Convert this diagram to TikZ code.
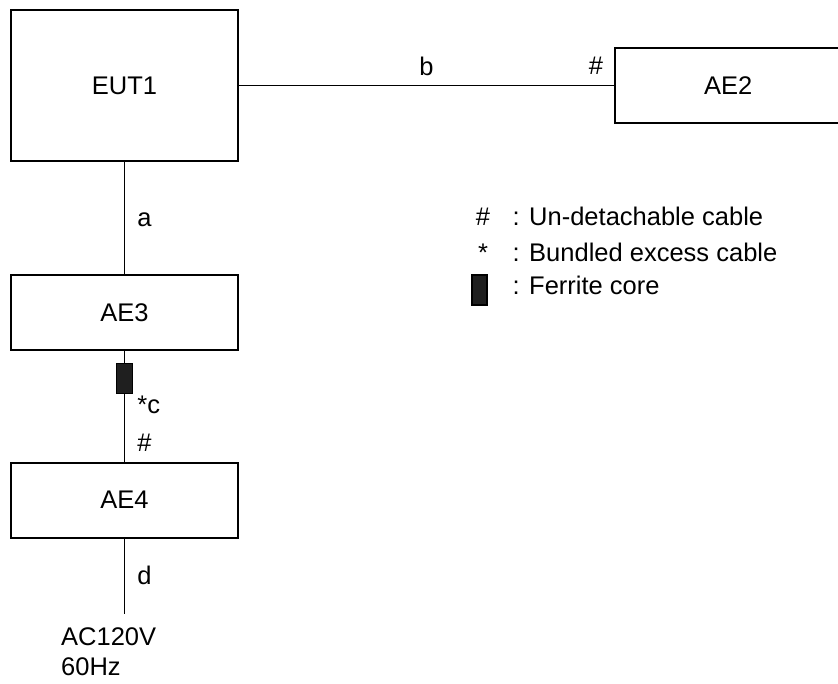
\documentclass[tikz,border=0pt]{standalone}
\usepackage{fontspec}
\setmainfont{Liberation Sans}
\usetikzlibrary{positioning}
\tikzstyle{unit}=[rectangle,draw=black,line width=1.8pt,fill=white,minimum width=227pt]
\tikzstyle{bigunit}=[unit,minimum height=151pt]
\tikzstyle{smallunit}=[unit,minimum height=75pt]
\tikzstyle{ferrite}=[rectangle,draw=black,line width=1.2pt,fill=black!88,minimum width=16pt,minimum height=30pt,inner sep=0pt]
\tikzstyle{cable}=[line width=1.8pt]
\tikzstyle{tag}=[inner sep=0pt,anchor=base west,xshift=12pt]

\begin{document}
\begin{tikzpicture}[x=1pt,y=-1pt,font=\fontsize{25.5}{30.3}\selectfont]
            \clip (0,0) rectangle (838,684);

            % UNITS

            \node[bigunit] (eut) at (124.5,85.5) {EUT1};
            \node[smallunit,right=375pt of eut] (ae2) {AE2};
            \node[smallunit,below=112pt of eut] (ae3) {AE3};
            \node[smallunit,below=111pt of ae3] (ae4) {AE4};
            \node[ferrite,below=12pt of ae3] (fer) {};
            \coordinate[below=75pt of ae4] (mains);
            \node[anchor=north west,align=left,inner sep=0pt,xshift=-63.5pt,yshift=-14pt] (supply) at (mains) {AC120V\\60Hz};

            % CABLES

            \path[cable] (eut) edge node[inner sep=0pt,anchor=base,midway,yshift=9.5pt] (lb) {b}
                                   node[inner sep=0pt,anchor=base east,pos=1,xshift=-10pt,yshift=11pt] (hb) {\#} (ae2);
            \path[cable] (eut) edge node[tag,pos=0.58] (la) {a} (ae3);
            \path[cable] (ae3) edge (fer);
            \path[cable] (fer) edge node[tag,pos=0.29] (lc) {*c}
                                   node[tag,pos=0.845] (hc) {\#} (ae4);
            \path[cable] (ae4) edge node[tag,pos=0.614] (ld) {d} (mains);

            % LEGEND

            \node[inner sep=0pt,anchor=base] (khash) at (483,226) {\#};
            \node[inner sep=0pt,anchor=base west] (thash) at (512.5,226) {: Un-detachable cable};
            \node[inner sep=0pt,anchor=base] (kstar) at (483,262) {*};
            \node[inner sep=0pt,anchor=base west] (tstar) at (512.5,262) {: Bundled excess cable};
            \node[ferrite,minimum width=15pt] (kfer) at (479.5,290) {};
            \node[inner sep=0pt,anchor=base west] (tfer) at (512.5,295) {: Ferrite core};

        \end{tikzpicture}
\end{document}
